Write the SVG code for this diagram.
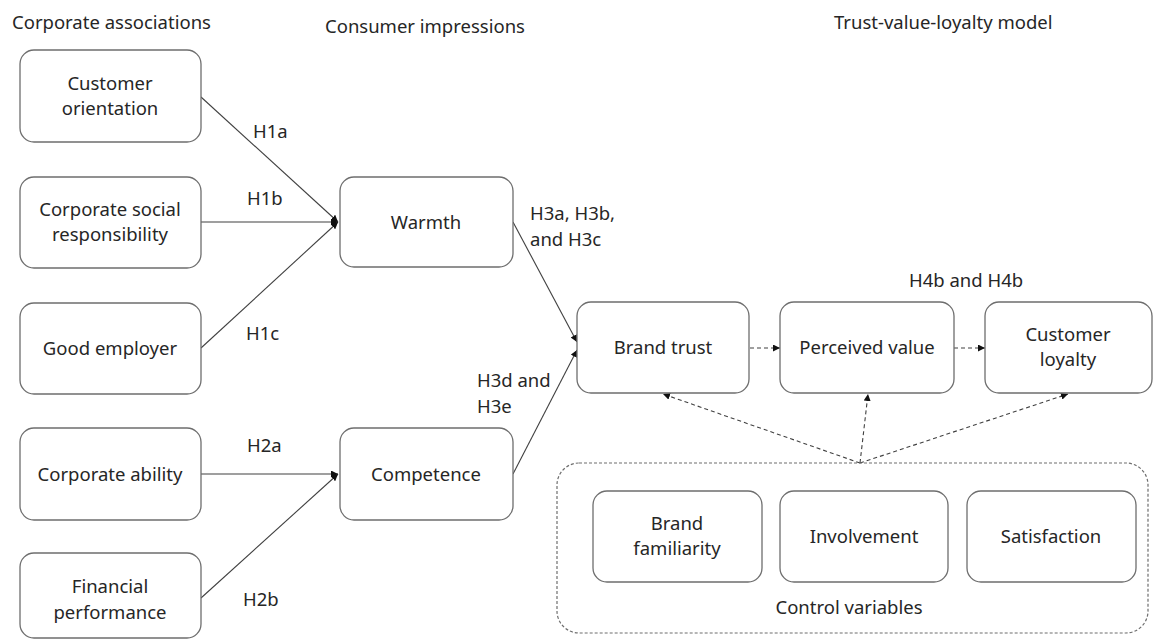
<svg xmlns="http://www.w3.org/2000/svg" width="1153" height="641" viewBox="0 0 1153 641">
  <style>
    .box { fill: #fff; stroke: #6e6e6e; stroke-width: 1.3; }
    .frame { fill: none; stroke: #6e6e6e; stroke-width: 1.2; stroke-dasharray: 3 2; }
    .t { font-family: "Noto Sans", "Open Sans", sans-serif; font-size: 18.5px; fill: #262626; text-anchor: middle; }
    .h { font-family: "Noto Sans", "Open Sans", sans-serif; font-size: 18.5px; fill: #262626; }
    .lbl { font-family: "Noto Sans", "Open Sans", sans-serif; font-size: 18.5px; fill: #262626; }
    .ln { fill: none; stroke: #404040; stroke-width: 1.1; }
    .dl { fill: none; stroke: #404040; stroke-width: 1.1; stroke-dasharray: 4 3; }
  </style>
  <defs>
    <marker id="arr" viewBox="0 0 10 10" refX="10" refY="5" markerWidth="7" markerHeight="7" orient="auto" markerUnits="userSpaceOnUse">
      <path d="M0,0 L10,5 L0,10 z" fill="#111"/>
    </marker>
  </defs>
  <rect width="1153" height="641" fill="#fff"/>

  <!-- column headings -->
  <text class="h" x="12" y="29">Corporate associations</text>
  <text class="h" x="325" y="33">Consumer impressions</text>
  <text class="h" x="834" y="29">Trust-value-loyalty model</text>

  <!-- connectors -->
  <g id="connectors">
    <line class="ln" x1="201" y1="97" x2="338" y2="222" marker-end="url(#arr)"/>
    <line class="ln" x1="201" y1="222" x2="338" y2="222" marker-end="url(#arr)"/>
    <line class="ln" x1="201" y1="348" x2="338" y2="222" marker-end="url(#arr)"/>
    <line class="ln" x1="201" y1="474" x2="338" y2="474" marker-end="url(#arr)"/>
    <line class="ln" x1="201" y1="598" x2="338" y2="474" marker-end="url(#arr)"/>
    <line class="ln" x1="513" y1="222" x2="577" y2="342" marker-end="url(#arr)"/>
    <line class="ln" x1="513" y1="474" x2="577" y2="350" marker-end="url(#arr)"/>
    <line class="dl" x1="750" y1="348" x2="780" y2="348" marker-end="url(#arr)"/>
    <line class="dl" x1="954" y1="348" x2="985" y2="348" marker-end="url(#arr)"/>
    <line class="dl" x1="860" y1="463" x2="663" y2="394" marker-end="url(#arr)"/>
    <line class="dl" x1="860" y1="463" x2="868" y2="394" marker-end="url(#arr)"/>
    <line class="dl" x1="860" y1="463" x2="1068" y2="394" marker-end="url(#arr)"/>
    <text class="lbl" x="253" y="138">H1a</text>
    <text class="lbl" x="247" y="205">H1b</text>
    <text class="lbl" x="246" y="340">H1c</text>
    <text class="lbl" x="247" y="452">H2a</text>
    <text class="lbl" x="243" y="606">H2b</text>
    <text class="lbl" x="530" y="220">H3a, H3b,</text>
    <text class="lbl" x="530" y="246">and H3c</text>
    <text class="lbl" x="477" y="387">H3d and</text>
    <text class="lbl" x="477" y="413">H3e</text>
    <text class="lbl" x="909" y="287">H4b and H4b</text>
  </g>

  <!-- corporate associations -->
  <g id="customer-orientation">
    <rect class="box" x="20" y="50" width="181" height="92" rx="14"/>
    <text class="t" x="110" y="90">Customer</text>
    <text class="t" x="110" y="115">orientation</text>
  </g>
  <g id="csr">
    <rect class="box" x="20" y="177" width="181" height="91" rx="14"/>
    <text class="t" x="110" y="216">Corporate social</text>
    <text class="t" x="110" y="241">responsibility</text>
  </g>
  <g id="good-employer">
    <rect class="box" x="20" y="303" width="181" height="91" rx="14"/>
    <text class="t" x="110" y="355">Good employer</text>
  </g>
  <g id="corporate-ability">
    <rect class="box" x="20" y="428" width="181" height="92" rx="14"/>
    <text class="t" x="110" y="481">Corporate ability</text>
  </g>
  <g id="financial-performance">
    <rect class="box" x="20" y="553" width="181" height="85" rx="14"/>
    <text class="t" x="110" y="593">Financial</text>
    <text class="t" x="110" y="619">performance</text>
  </g>

  <!-- consumer impressions -->
  <g id="warmth">
    <rect class="box" x="340" y="177" width="173" height="90" rx="14"/>
    <text class="t" x="426" y="229">Warmth</text>
  </g>
  <g id="competence">
    <rect class="box" x="340" y="428" width="173" height="92" rx="14"/>
    <text class="t" x="426" y="481">Competence</text>
  </g>

  <!-- trust-value-loyalty -->
  <g id="brand-trust">
    <rect class="box" x="577" y="302" width="172" height="91" rx="14"/>
    <text class="t" x="663" y="354">Brand trust</text>
  </g>
  <g id="perceived-value">
    <rect class="box" x="780" y="302" width="174" height="91" rx="14"/>
    <text class="t" x="867" y="354">Perceived value</text>
  </g>
  <g id="customer-loyalty">
    <rect class="box" x="985" y="302" width="167" height="91" rx="14"/>
    <text class="t" x="1068" y="341">Customer</text>
    <text class="t" x="1068" y="366">loyalty</text>
  </g>

  <!-- control variables -->
  <g id="control-variables">
    <rect class="frame" x="557" y="463" width="591" height="170" rx="22"/>
    <text class="t" x="849" y="614">Control variables</text>
  </g>
  <g id="brand-familiarity">
    <rect class="box" x="593" y="491" width="169" height="91" rx="14"/>
    <text class="t" x="677" y="530">Brand</text>
    <text class="t" x="677" y="555">familiarity</text>
  </g>
  <g id="involvement">
    <rect class="box" x="780" y="491" width="168" height="91" rx="14"/>
    <text class="t" x="864" y="543">Involvement</text>
  </g>
  <g id="satisfaction">
    <rect class="box" x="967" y="491" width="169" height="91" rx="14"/>
    <text class="t" x="1051" y="543">Satisfaction</text>
  </g>
</svg>
